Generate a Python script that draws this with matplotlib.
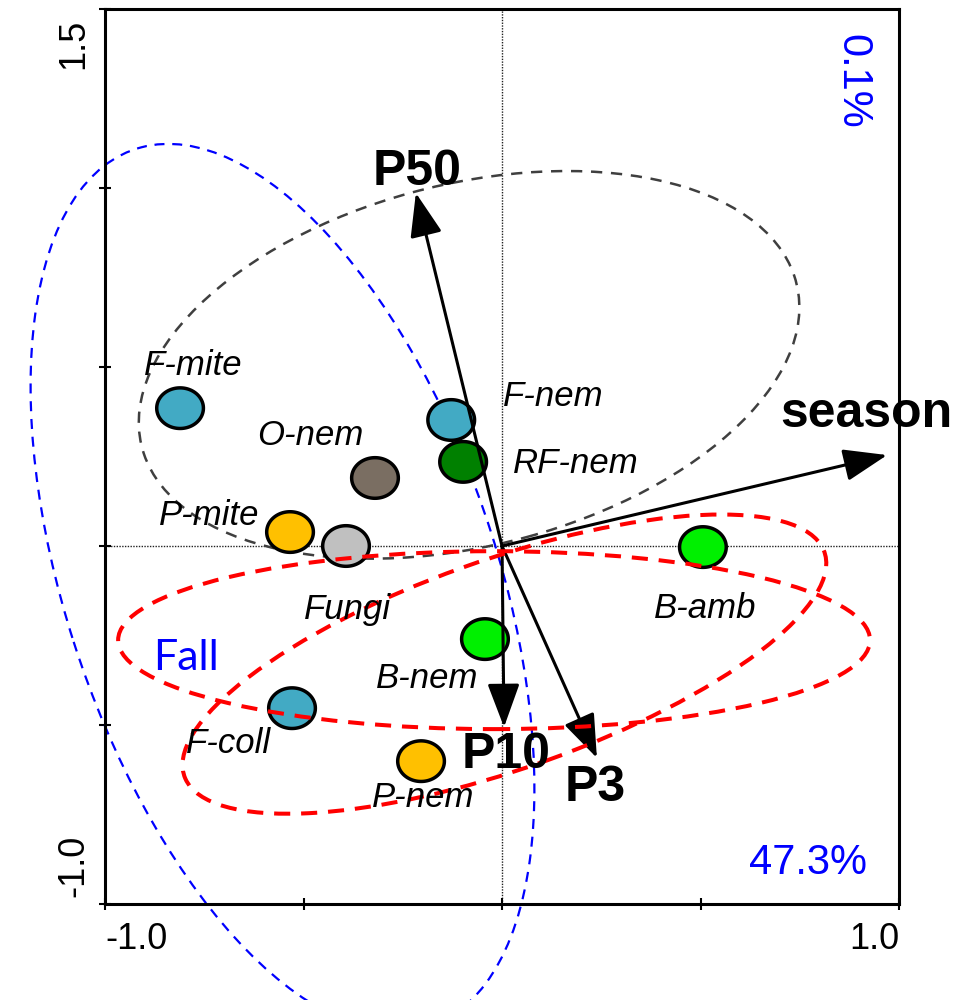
import numpy as np
import matplotlib
matplotlib.use("Agg")
import matplotlib.pyplot as plt
import matplotlib.transforms as mtransforms
from matplotlib.patches import Ellipse, FancyArrowPatch
from matplotlib.path import Path

# ---- species / group scores on the two ordination axes ----
taxa = ["F-mite", "O-nem", "P-mite", "Fungi", "F-nem", "RF-nem",
        "B-amb", "B-nem", "P-nem", "F-coll"]
score_x = [-0.811, -0.320, -0.534, -0.393, -0.128, -0.098, 0.506, -0.043, -0.204, -0.529]
score_y = [0.385, 0.190, 0.039, 0.000, 0.352, 0.235, -0.003, -0.260, -0.601, -0.453]
taxon_colors = ["#42aac4", "#7a6e62", "#ffc000", "#c0c0c0", "#42aac4", "#008000",
                "#00f000", "#00f000", "#ffc000", "#42aac4"]
# label anchor (centre x, baseline y)
label_x = [-0.778, -0.484, -0.738, -0.390, 0.128, 0.186, 0.511, -0.189, -0.199, -0.688]
label_y = [0.478, 0.282, 0.059, -0.204, 0.391, 0.204, -0.201, -0.397, -0.729, -0.578]

# ---- explanatory variables (biplot arrows) ----
env_names = ["P50", "season", "P10", "P3"]
env_x = [-0.217, 0.970, 0.005, 0.239]
env_y = [0.986, 0.254, -0.506, -0.592]
env_label_x = [-0.214, 0.919, 0.010, 0.234]
env_label_y = [1.008, 0.332, -0.620, -0.712]

# ---- group ellipses: centre x, centre y, width, height, angle ----
ell_blue = (-0.553, -0.116, 2.560, 1.095, -73.9)
ell_grey = (-0.083, 0.506, 1.712, 1.005, 16.9)
ell_red_a = (-0.020, -0.263, 1.894, 0.497, 0.0)
ell_red_b = (0.006, -0.330, 1.730, 0.579, 21.7)

axis1_pct = "47.3%"
axis2_pct = "0.1%"

fig = plt.figure(figsize=(9.61, 10.0), dpi=100)
ax = fig.add_axes([0.1093, 0.096, 0.9355 - 0.1093, 0.991 - 0.096])
ax.set_xlim(-1.0, 1.0)
ax.set_ylim(-1.0, 1.5)

for s in ax.spines.values():
    s.set_linewidth(2.2)

# zero lines
ax.axhline(0, color="#222222", lw=1.0, ls=(0, (1, 1)), zorder=1)
ax.axvline(0, color="#222222", lw=1.0, ls=(0, (1, 1)), zorder=1)

def add_ellipse(p, color, lw, dashes, z):
    cx, cy, w, h, ang = p
    e = Ellipse((cx, cy), w, h, angle=ang, fill=False, edgecolor=color,
                lw=lw, ls=(0, dashes), zorder=z, clip_on=False)
    ax.add_patch(e)

add_ellipse(ell_blue, "#0000ff", 1.6, (4.5, 3.5), 2)
add_ellipse(ell_grey, "#3f3f3f", 1.8, (4.5, 3.5), 2)

# species points (slightly wide ellipse marker)
t = np.linspace(0, 2 * np.pi, 120)
oval = Path(np.column_stack([np.cos(t), 0.87 * np.sin(t)]), closed=True)
ax.scatter(score_x, score_y, s=1130, marker=oval, c=taxon_colors,
           edgecolors="black", linewidths=2.5, zorder=3)

for name, lx, ly in zip(taxa, label_x, label_y):
    ax.text(lx, ly, name, fontsize=25, fontstyle="italic", family="Liberation Sans",
            ha="center", va="baseline", zorder=6)

# biplot arrows
for ex, ey in zip(env_x, env_y):
    arr = FancyArrowPatch((0, 0), (ex, ey),
                          arrowstyle="-|>,head_length=2.7,head_width=1.0",
                          mutation_scale=10, lw=2.2, color="black",
                          shrinkA=0, shrinkB=0, zorder=4)
    ax.add_patch(arr)
for name, lx, ly in zip(env_names, env_label_x, env_label_y):
    ax.text(lx, ly, name, fontsize=36, fontweight="bold", family="Liberation Sans",
            ha="center", va="baseline", zorder=6, clip_on=False)

add_ellipse(ell_red_a, "#ff0000", 2.9, (4.0, 2.7), 5)
add_ellipse(ell_red_b, "#ff0000", 2.9, (4.0, 2.7), 5)

ax.text(-0.796, -0.346, "Fall", fontsize=31, color="#0000ff", family="Lato",
        ha="center", va="baseline", zorder=6)
ax.text(0.771, -0.885, axis1_pct, fontsize=30, color="#0000ff",
        family="Liberation Sans", ha="center", va="center", zorder=6)
ax.text(0.882, 1.299, axis2_pct, fontsize=30, color="#0000ff", rotation=-90,
        family="Liberation Sans", ha="center", va="center", zorder=6)

# ticks: only the axis ends are labelled
ax.set_xticks([-1.0, -0.5, 0.0, 0.5, 1.0])
ax.set_xticklabels(["-1.0", "", "", "", "1.0"])
ax.set_yticks([-1.0, -0.5, 0.0, 0.5, 1.0, 1.5])
ax.set_yticklabels(["-1.0", "", "", "", "", "1.5"], rotation=90)
ax.tick_params(direction="inout", length=8, width=1.5, labelsize=26)
ax.tick_params(axis="x", pad=9)
ax.tick_params(axis="y", pad=6)
for lab in ax.get_xticklabels() + ax.get_yticklabels():
    lab.set_family("Liberation Sans")
xl = ax.get_xticklabels()
xl[0].set_ha("left")
xl[-1].set_ha("right")
yl = ax.get_yticklabels()
yl[0].set_va("bottom")
yl[-1].set_va("top")
# keep the end labels slightly inside the axis range
yl[0].set_transform(yl[0].get_transform()
                    + mtransforms.ScaledTranslation(0, 5 / 72, fig.dpi_scale_trans))
yl[-1].set_transform(yl[-1].get_transform()
                     + mtransforms.ScaledTranslation(0, -7 / 72, fig.dpi_scale_trans))

fig.savefig("out.png", dpi=100)
